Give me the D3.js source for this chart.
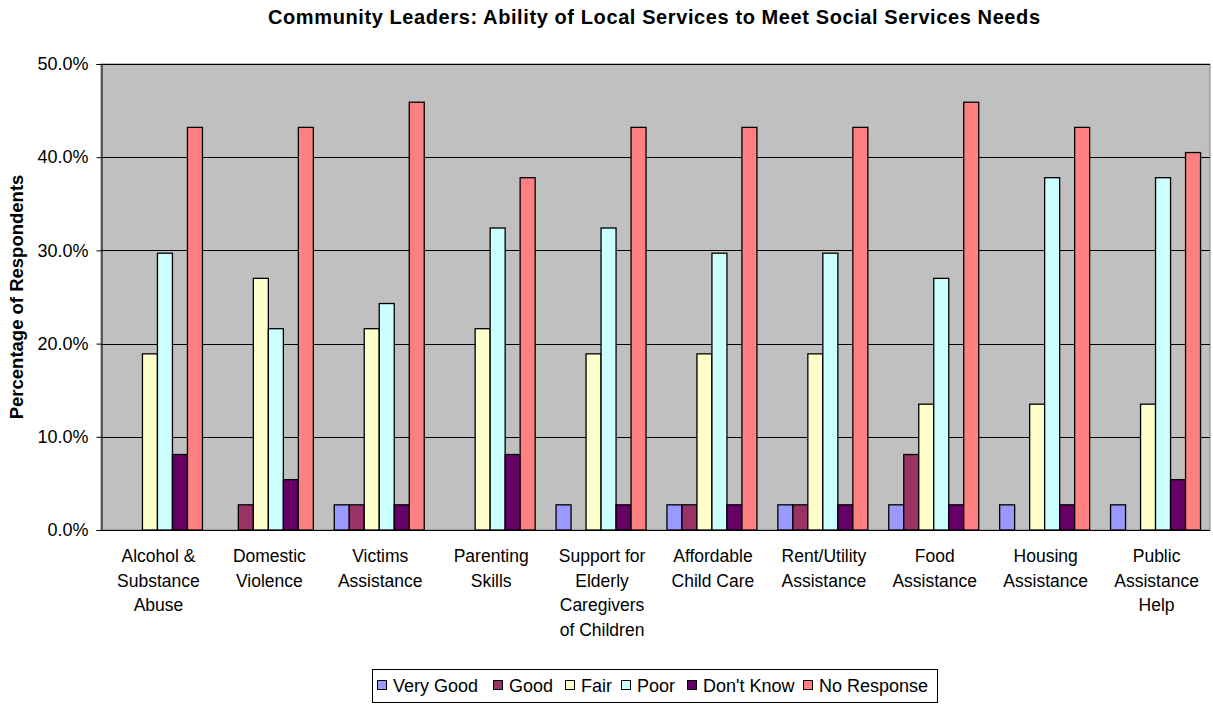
<!DOCTYPE html>
<html>
<head>
<meta charset="utf-8">
<script src="https://cdn.jsdelivr.net/npm/d3@7"></script>
<style>
body { margin: 0; background: #fff; }
text { font-family: "Liberation Sans", Arial, sans-serif; }
</style>
</head>
<body>
<script>
var width = 1213, height = 704;
var marginLeft = 101, marginTop = 64, plotRight = 1210, plotBottom = 530;

var categories = [
	["Alcohol &", "Substance", "Abuse"],
	["Domestic", "Violence"],
	["Victims", "Assistance"],
	["Parenting", "Skills"],
	["Support for", "Elderly", "Caregivers", "of Children"],
	["Affordable", "Child Care"],
	["Rent/Utility", "Assistance"],
	["Food", "Assistance"],
	["Housing", "Assistance"],
	["Public", "Assistance", "Help"]
];
var seriesNames = ["Very Good", "Good", "Fair", "Poor", "Don't Know", "No Response"];
var seriesColors = ["#9999FF", "#993366", "#FFFFCC", "#CCFFFF", "#660066", "#FF8080"];

// percent of respondents, one array per series
var veryGood   = [0, 0, 2.7, 0, 2.7, 2.7, 2.7, 2.7, 2.7, 2.7];
var good       = [0, 2.7, 2.7, 0, 0, 2.7, 2.7, 8.1, 0, 0];
var fair       = [18.9, 27.0, 21.6, 21.6, 18.9, 18.9, 18.9, 13.5, 13.5, 13.5];
var poor       = [29.7, 21.6, 24.3, 32.4, 32.4, 29.7, 29.7, 27.0, 37.8, 37.8];
var dontKnow   = [8.1, 5.4, 2.7, 8.1, 2.7, 2.7, 2.7, 2.7, 2.7, 5.4];
var noResponse = [43.2, 43.2, 45.9, 37.8, 43.2, 43.2, 43.2, 45.9, 43.2, 40.5];
var series = [veryGood, good, fair, poor, dontKnow, noResponse];

var yTicks = [0, 10, 20, 30, 40, 50];

var svg = d3.select("body").append("svg")
	.attr("width", width)
	.attr("height", height);

var x = d3.scaleBand()
	.domain(d3.range(categories.length))
	.range([marginLeft, plotRight]);

var barW = 15;
var x1 = d3.scaleBand()
	.domain(d3.range(series.length))
	.range([0, barW * series.length]);

var y = d3.scaleLinear().domain([0, 50]).range([plotBottom, marginTop]);

// plot background
svg.append("rect")
	.attr("x", marginLeft)
	.attr("y", marginTop)
	.attr("width", plotRight - marginLeft)
	.attr("height", plotBottom - marginTop)
	.style("fill", "#C0C0C0")
	.style("stroke", "#808080")
	.style("stroke-width", 1);

// gridlines
svg.append("g")
	.selectAll("line")
	.data(yTicks.slice(1))
	.enter()
	.append("line")
	.attr("x1", marginLeft)
	.attr("x2", plotRight)
	.attr("y1", function (d) { return Math.round(y(d)) + 0.5; })
	.attr("y2", function (d) { return Math.round(y(d)) + 0.5; })
	.style("stroke", "#000")
	.style("stroke-width", 1);

// bars
var groups = svg.append("g")
	.selectAll("g")
	.data(categories)
	.enter()
	.append("g")
	.attr("transform", function (d, i) {
		return "translate(" + (x(i) + (x.bandwidth() - barW * series.length) / 2 + 1) + ",0)";
	});

groups.selectAll("rect")
	.data(function (d, i) {
		return series.map(function (s, k) { return { k: k, v: s[i] }; });
	})
	.enter()
	.filter(function (d) { return d.v > 0; })
	.append("rect")
	.attr("x", function (d) { return x1(d.k); })
	.attr("y", function (d) { return y(d.v); })
	.attr("width", x1.bandwidth())
	.attr("height", function (d) { return y(0) - y(d.v); })
	.style("fill", function (d) { return seriesColors[d.k]; })
	.style("stroke", "#000")
	.style("stroke-width", 1.3);

// y axis
var yAxis = svg.append("g")
	.attr("transform", "translate(" + (marginLeft + 0.5) + ",0)")
	.call(d3.axisLeft(y).tickValues(yTicks).tickSize(5)
		.tickFormat(function (d) { return d.toFixed(1) + "%"; }));
yAxis.select(".domain").style("stroke", "#000");
yAxis.selectAll("text")
	.style("font-size", "18px")
	.style("fill", "#000")
	.attr("x", -13);

// x axis baseline
svg.append("line")
	.attr("x1", marginLeft)
	.attr("x2", plotRight)
	.attr("y1", plotBottom + 0.5)
	.attr("y2", plotBottom + 0.5)
	.style("stroke", "#000");

// category labels
svg.append("g")
	.selectAll("text")
	.data(categories)
	.enter()
	.append("text")
	.attr("text-anchor", "middle")
	.attr("transform", function (d, i) {
		return "translate(" + (x(i) + x.bandwidth() / 2 + 2) + "," + 562 + ")";
	})
	.style("font-size", "17.5px")
	.style("fill", "#000")
	.selectAll("tspan")
	.data(function (d) { return d; })
	.enter()
	.append("tspan")
	.attr("x", 0)
	.attr("y", function (d, j) { return j * 24.5; })
	.text(function (d) { return d; });

// y axis title
svg.append("text")
	.attr("transform", "translate(23," + ((marginTop + plotBottom) / 2) + ") rotate(-90)")
	.attr("text-anchor", "middle")
	.style("font-size", "18.5px")
	.style("font-weight", "bold")
	.text("Percentage of Respondents");

// chart title
svg.append("text")
	.attr("x", 654)
	.attr("y", 24)
	.attr("text-anchor", "middle")
	.attr("textLength", 772)
	.attr("lengthAdjust", "spacing")
	.style("font-size", "20px")
	.style("font-weight", "bold")
	.text("Community Leaders: Ability of Local Services to Meet Social Services Needs");

// legend
var legend = svg.append("g").attr("transform", "translate(372,669)");
legend.append("rect")
	.attr("x", 0.5).attr("y", 0.5)
	.attr("width", 565).attr("height", 33)
	.style("fill", "#fff")
	.style("stroke", "#000");

var legendX = [5, 121, 193, 249, 315, 431];
var items = legend.selectAll("g.item")
	.data(seriesNames)
	.enter()
	.append("g")
	.attr("class", "item")
	.attr("transform", function (d, i) { return "translate(" + legendX[i] + ",0)"; });
items.append("rect")
	.attr("x", 0.5).attr("y", 11.5)
	.attr("width", 9).attr("height", 9)
	.style("fill", function (d, i) { return seriesColors[i]; })
	.style("stroke", "#000");
items.append("text")
	.attr("x", 16)
	.attr("y", 23)
	.style("font-size", "18px")
	.text(function (d) { return d; });
</script>
</body>
</html>
